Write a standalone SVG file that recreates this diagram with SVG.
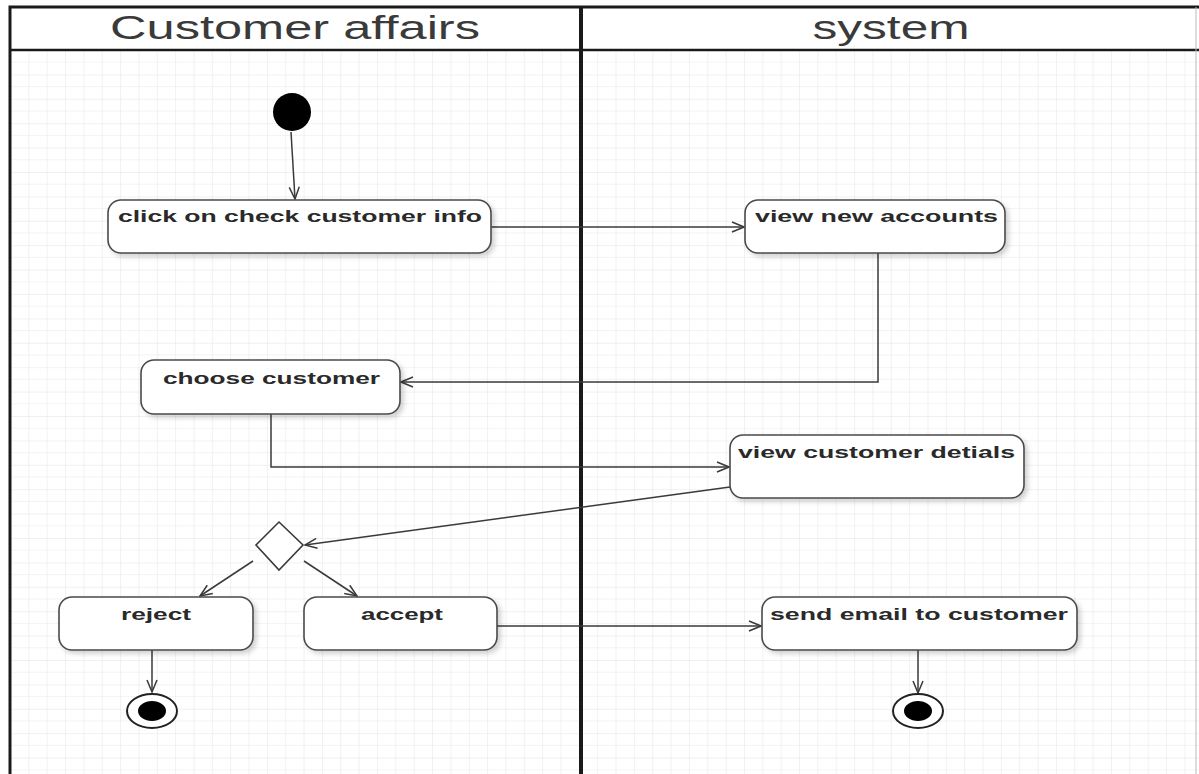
<svg xmlns="http://www.w3.org/2000/svg" width="1199" height="774" viewBox="0 0 1199 774">
  <style>
    .lane-title { font-family: "Liberation Sans", Arial, sans-serif; font-size: 33px; fill: #3a3a3a; }
    .act rect { fill: #fff; stroke: #4a4a4a; stroke-width: 1.6; filter: url(#soft); }
    .act text { font-family: "Liberation Sans", Arial, sans-serif; font-size: 16px; font-weight: bold; fill: #2a2a2a; }
    .flow { fill: none; stroke: #3a3a3a; stroke-width: 1.5; marker-end: url(#open); }
  </style>
  <defs>
    <pattern id="grid" x="10" y="50" width="18.35" height="24.4" patternUnits="userSpaceOnUse">
      <path d="M0 12.2 H18.35" stroke="#f3f3f3" stroke-width="1" fill="none"/>
      <path d="M0 0 V24.4 M0 0 H18.35" stroke="#e4e4e4" stroke-width="1" fill="none"/>
    </pattern>
    <filter id="soft" x="-10%" y="-20%" width="125%" height="150%">
      <feDropShadow dx="3" dy="3" stdDeviation="2.5" flood-color="#000" flood-opacity="0.18"/>
    </filter>
    <marker id="open" markerWidth="14" markerHeight="12" refX="13" refY="6" orient="auto" markerUnits="userSpaceOnUse">
      <path d="M1 1 L13 6 L1 11" fill="none" stroke="#3a3a3a" stroke-width="1.5"/>
    </marker>
  </defs>

  <!-- page background and swimlane frame -->
  <rect width="1199" height="774" fill="#fff"/>
  <rect x="10" y="50" width="1189" height="724" fill="url(#grid)"/>
  <g id="lanes" fill="none" stroke="#1a1a1a">
    <path d="M10 774 V7 H1199" stroke-width="3"/>
    <path d="M10 50 H1199" stroke-width="2.5"/>
    <path d="M581 7 V774" stroke-width="4"/>
    <path d="M1196 7 V774" stroke="#bbb" stroke-width="1"/>
  </g>
  <text class="lane-title" x="295" y="39" text-anchor="middle" textLength="370" lengthAdjust="spacingAndGlyphs">Customer affairs</text>
  <text class="lane-title" x="891" y="39" text-anchor="middle" textLength="157" lengthAdjust="spacingAndGlyphs">system</text>

  <!-- connectors -->
  <g id="connectors">
    <path class="flow" d="M291 132 L295 199"/>
    <path class="flow" d="M491 227 H744"/>
    <path class="flow" d="M878 253 V382 H401"/>
    <path class="flow" d="M271 414 V467 H729"/>
    <path class="flow" d="M730 487 L305 545"/>
    <path class="flow" d="M253 561 L200 596"/>
    <path class="flow" d="M304 561 L357 596"/>
    <path class="flow" d="M497 626 H761"/>
    <path class="flow" d="M152 650 V692"/>
    <path class="flow" d="M918 650 V693"/>
  </g>

  <!-- start node -->
  <g id="start">
    <circle cx="292" cy="112" r="19" fill="#000"/>
  </g>

  <g id="click-check" class="act">
    <rect x="108" y="200" width="383" height="53" rx="13"/>
    <text x="118" y="222" textLength="364" lengthAdjust="spacingAndGlyphs">click on check customer info</text>
  </g>

  <g id="view-new-accounts" class="act">
    <rect x="745" y="200" width="260" height="53" rx="13"/>
    <text x="755" y="222" textLength="243" lengthAdjust="spacingAndGlyphs">view new accounts</text>
  </g>

  <g id="choose-customer" class="act">
    <rect x="141" y="360" width="259" height="54" rx="13"/>
    <text x="163" y="384" textLength="217" lengthAdjust="spacingAndGlyphs">choose customer</text>
  </g>

  <g id="view-details" class="act">
    <rect x="730" y="435" width="294" height="63" rx="13"/>
    <text x="738" y="458" textLength="277" lengthAdjust="spacingAndGlyphs">view customer detials</text>
  </g>

  <g id="decision">
    <polygon points="279,522 303,545 279,570 256,545" fill="#fff" stroke="#3a3a3a" stroke-width="1.6"/>
  </g>

  <g id="reject" class="act">
    <rect x="59" y="597" width="194" height="53" rx="13"/>
    <text x="156" y="620" text-anchor="middle" textLength="70" lengthAdjust="spacingAndGlyphs">reject</text>
  </g>

  <g id="accept" class="act">
    <rect x="304" y="597" width="193" height="53" rx="13"/>
    <text x="402" y="620" text-anchor="middle" textLength="82" lengthAdjust="spacingAndGlyphs">accept</text>
  </g>

  <g id="send-email" class="act">
    <rect x="762" y="597" width="315" height="53" rx="13"/>
    <text x="770" y="620" textLength="298" lengthAdjust="spacingAndGlyphs">send email to customer</text>
  </g>

  <!-- final nodes -->
  <g id="end-reject">
    <ellipse cx="152" cy="711" rx="25" ry="17" fill="#fff" stroke="#222" stroke-width="2"/>
    <ellipse cx="152" cy="711" rx="14" ry="10" fill="#000"/>
  </g>
  <g id="end-system">
    <ellipse cx="918" cy="711" rx="25" ry="17" fill="#fff" stroke="#222" stroke-width="2"/>
    <ellipse cx="918" cy="711" rx="14" ry="10" fill="#000"/>
  </g>
</svg>
